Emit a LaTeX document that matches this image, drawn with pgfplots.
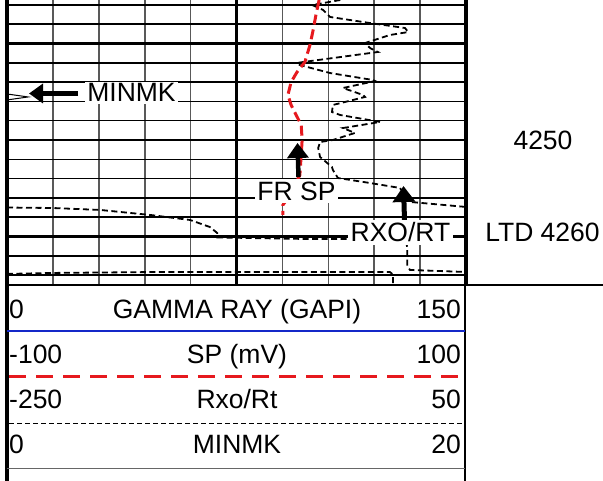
\documentclass[border=0pt]{standalone}
\usepackage{pgfplots}
\pgfplotsset{compat=1.18}
\usepackage{pgfplotstable}
\usepackage{fontspec}
\setmainfont{Liberation Sans}
\usetikzlibrary{arrows.meta}

\definecolor{spred}{RGB}{230,25,30}
\definecolor{grblue}{RGB}{20,40,200}

% x = track division (0..10), y = depth (ft)
\pgfplotstableread{
div depth
6.80 4235.49
6.73 4237.05
6.67 4238.60
6.60 4240.16
6.49 4241.92
6.32 4242.95
6.19 4243.99
6.12 4245.34
6.19 4246.37
6.30 4247.41
6.41 4248.45
6.43 4250.00
6.41 4251.55
6.38 4253.63
6.17 4255.70
6.01 4256.74
6.01 4257.77
}\sptable

\pgfplotstableread{
div depth
7.26 4235.49
6.65 4236.01
6.89 4236.53
7.04 4237.25
7.91 4237.88
8.67 4238.39
8.74 4238.81
8.34 4239.12
7.80 4239.95
7.91 4240.47
8.08 4240.88
6.45 4241.92
6.32 4242.02
6.38 4242.23
7.04 4243.06
7.97 4243.78
8.02 4243.89
7.32 4244.61
7.76 4245.34
7.80 4245.54
7.10 4246.37
7.08 4247.10
7.26 4247.41
8.13 4248.13
7.32 4248.76
7.58 4249.27
7.10 4250.00
6.82 4250.21
6.78 4250.83
6.82 4251.76
7.08 4252.80
7.10 4253.11
7.21 4253.94
7.91 4254.46
8.56 4254.97
8.78 4256.42
10.00 4256.94
}\rxoa

\pgfplotstableread{
div depth
0.00 4257.00
1.00 4257.05
2.03 4257.25
3.12 4257.77
3.99 4258.29
4.42 4259.02
4.58 4259.64
4.58 4260.10
6.38 4260.25
8.67 4260.25
8.72 4261.09
8.72 4263.06
8.78 4263.47
10.00 4263.68
}\rxob

\pgfplotstableread{
div depth
0.00 4263.88
1.00 4263.78
3.33 4263.68
8.34 4263.68
8.41 4263.95
8.41 4265.03
}\lowtrace

\pgfplotstableread{
div depth
0.00 4245.23
0.46 4245.54
0.00 4245.85
}\minmk

\begin{document}
\begin{tikzpicture}
\useasboundingbox (-7bp,-196bp) rectangle (596bp,285bp);
\begin{axis}[
    at={(0,0)}, anchor=south west,
    scale only axis,
    width=459bp, height=285bp,
    xmin=0, xmax=10,
    ymin=4235.49, ymax=4265.03,
    y dir=reverse,
    axis line style={draw=none},
    xtick={1,2,3,4,6,7,8,9},
    ytick={4236,4238,...,4264},
    xticklabels={}, yticklabels={},
    major tick length=0pt,
    grid=major,
    every axis x grid/.style={black!65, line width=1.6bp},
    every axis y grid/.style={black, line width=1.5bp},
]
    % heavy lines every 10 ft and at mid track
    \draw[line width=2.8bp] (axis cs:0,4240) -- (axis cs:10,4240);
    \draw[line width=2.8bp] (axis cs:0,4250) -- (axis cs:10,4250);
    \draw[line width=2.8bp] (axis cs:0,4260) -- (axis cs:10,4260);
    \draw[line width=2.6bp] (axis cs:5,4235.49) -- (axis cs:5,4265.03);

    \addplot[black, line width=1.8bp, dash pattern=on 6bp off 3.5bp, mark=none]
        table[x=div, y=depth] {\rxoa};
    \addplot[black, line width=1.8bp, dash pattern=on 6bp off 3.5bp, mark=none]
        table[x=div, y=depth] {\rxob};
    \addplot[black, line width=1.8bp, dash pattern=on 6bp off 3.5bp, mark=none]
        table[x=div, y=depth] {\lowtrace};
    \addplot[black, line width=1bp, mark=none]
        table[x=div, y=depth] {\minmk};
    \addplot[spred, line width=3bp, dash pattern=on 10bp off 5bp, mark=none]
        table[x=div, y=depth] {\sptable};
\end{axis}

% annotations and header, in picture pixels (origin top left)
\begin{scope}[x=1bp, y=-1bp, shift={(-7bp,285bp)},
    every node/.style={font=\fontsize{26.5bp}{30bp}\selectfont, inner sep=0pt}]
    % borders
    \draw[line width=4bp] (7,0) -- (7,481);
    \draw[line width=3.5bp] (466,0) -- (466,285);
    \draw[line width=1.2bp] (465,285) -- (465,481);
    \draw[line width=1.8bp] (7,285) -- (603,285);

    % arrows and labels in the track
    \draw[line width=5bp, -{Triangle[length=14bp, width=19bp]}] (78,93.5) -- (29,93.5);
    \node[fill=white, inner sep=2bp, anchor=base] at (131.5,102) {MINMK};

    \draw[line width=4.5bp, -{Triangle[length=15bp, width=21bp]}] (298.5,177) -- (297.5,143);
    \node[fill=white, inner sep=2.5bp, anchor=base] at (296.5,200.5) {FR SP};

    \draw[line width=5bp, -{Triangle[length=16bp, width=22bp]}] (404.5,220) -- (403.5,186);
    \node[fill=white, inner sep=2.5bp, anchor=base] at (400.5,242) {RXO/RT};

    % depth annotations
    \node[anchor=base] at (543,150) {4250};
    \node[anchor=base] at (542.5,242) {LTD 4260};

    % header
    \node[anchor=base west] at (9,319) {0};
    \node[anchor=base] at (237,319) {GAMMA RAY (GAPI)};
    \node[anchor=base east] at (461,319) {150};
    \draw[grblue, line width=2.8bp] (7,331) -- (465,331);

    \node[anchor=base west] at (9,364) {-100};
    \node[anchor=base] at (237,364) {SP (mV)};
    \node[anchor=base east] at (461,364) {100};
    \draw[spred, line width=3bp, dash pattern=on 17bp off 10bp] (9,377) -- (465,377);

    \node[anchor=base west] at (9,409) {-250};
    \node[anchor=base] at (237,409) {Rxo/Rt};
    \node[anchor=base east] at (461,409) {50};
    \draw[line width=1.6bp, dash pattern=on 5bp off 3bp] (9,423.5) -- (465,423.5);

    \node[anchor=base west] at (9,454) {0};
    \node[anchor=base] at (237,454) {MINMK};
    \node[anchor=base east] at (461,454) {20};
    \draw[black!60, line width=1.5bp] (7,468.5) -- (465,468.5);
\end{scope}
\end{tikzpicture}
\end{document}
